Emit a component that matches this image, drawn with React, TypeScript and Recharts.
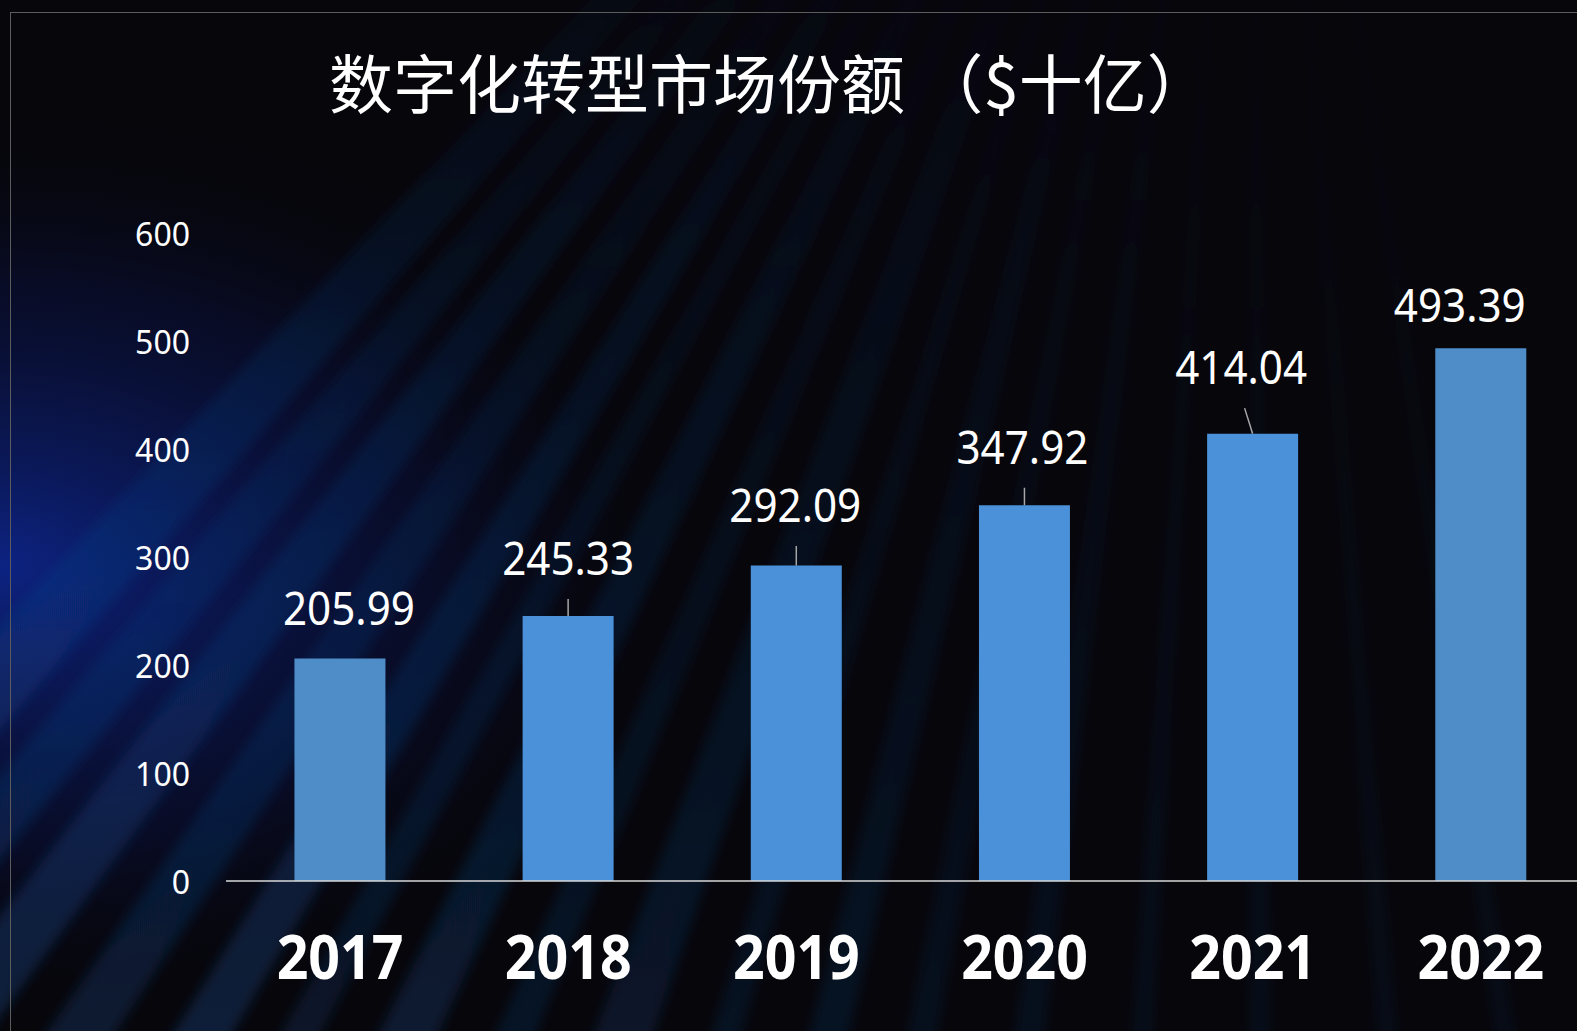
import React from 'react';
import { BarChart, Bar, XAxis, YAxis, LabelList, Cell } from 'recharts';

const years = ['2017', '2018', '2019', '2020', '2021', '2022'];
const marketShare = [205.99, 245.33, 292.09, 347.92, 414.04, 493.39];
const yTicks = [0, 100, 200, 300, 400, 500, 600];
const titleText = '数字化转型市场份额 （$十亿）';

const barColors = ['#4E8DC8', '#4A91D9', '#4A91D9', '#4A91D9', '#4A91D9', '#4E8DC8'];
// label placement style (offsets relative to bar top / centre)
const labelStyle = [
  { dx: 9, lift: 33.5, leader: false, lx0: 0, lx1: 0 },
  { dx: 0, lift: 41, leader: true, lx0: 0, lx1: 0 },
  { dx: -1, lift: 43.6, leader: true, lx0: 0, lx1: 0 },
  { dx: -2, lift: 41.5, leader: true, lx0: 0, lx1: 0 },
  { dx: -11.5, lift: 49.7, leader: true, lx0: -8, lx1: 0 },
  { dx: -21, lift: 26.5, leader: false, lx0: 0, lx1: 0 },
];

const data = years.map((y, i) => ({ year: y, value: marketShare[i] }));

const W = 1577;
const H = 1031;
const CHART_W = 1620;
const PLOT_LEFT = 226;
const PLOT_RIGHT = 1595;

const rays = [
  { x0: -420, x1: -300, op: 0.35 }, { x0: -250, x1: -170, op: 0.28 }, { x0: -120, x1: -40, op: 0.32 },
  { x0: 20, x1: 90, op: 0.25 }, { x0: 150, x1: 210, op: 0.3 }, { x0: 260, x1: 300, op: 0.2 },
  { x0: 360, x1: 420, op: 0.25 }, { x0: 480, x1: 520, op: 0.18 }, { x0: 580, x1: 640, op: 0.2 },
  { x0: 700, x1: 730, op: 0.15 }, { x0: 800, x1: 840, op: 0.16 }, { x0: 900, x1: 930, op: 0.12 },
  { x0: 1010, x1: 1040, op: 0.12 }, { x0: 1130, x1: 1150, op: 0.1 }, { x0: 1250, x1: 1270, op: 0.1 },
  { x0: 1380, x1: 1400, op: 0.08 }, { x0: 1500, x1: 1520, op: 0.08 },
];

const Background = () => {
  const fx = 1250;
  const fy = -700;
  return (
    <svg width={W} height={H} style={{ position: 'absolute', left: 0, top: 0 }}>
      <defs>
        <radialGradient id="leftGlow" cx="0" cy="0.55" r="0.45">
          <stop offset="0%" stopColor="#0e2aa0" stopOpacity="0.8" />
          <stop offset="60%" stopColor="#0a1550" stopOpacity="0.4" />
          <stop offset="100%" stopColor="#05060c" stopOpacity="0" />
        </radialGradient>
        <linearGradient id="rayFade" x1="0" y1="1" x2="0" y2="0">
          <stop offset="0%" stopColor="#1a5aa8" stopOpacity="1" />
          <stop offset="45%" stopColor="#123d80" stopOpacity="0.55" />
          <stop offset="75%" stopColor="#0a1a40" stopOpacity="0" />
          <stop offset="100%" stopColor="#0a1a40" stopOpacity="0" />
        </linearGradient>
        <filter id="blur6"><feGaussianBlur stdDeviation="6" /></filter>
      </defs>
      <rect x={0} y={0} width={W} height={H} fill="#07060b" />
      <rect x={0} y={0} width={W} height={H} fill="url(#leftGlow)" />
      <g filter="url(#blur6)">
        {rays.map((r, i) => (
          <polygon
            key={i}
            points={`${fx},${fy} ${fx + 6},${fy} ${r.x1},${H + 40} ${r.x0},${H + 40}`}
            fill="url(#rayFade)"
            opacity={r.op}
          />
        ))}
      </g>
      <rect x={10.5} y={12.5} width={W} height={H} fill="none" stroke="#5c5c5c" strokeWidth={1} />
    </svg>
  );
};

const YTick = (props: any) => {
  const { x, y, payload } = props;
  return (
    <text x={x} y={y} textAnchor="end" dominantBaseline="central" fill="#ffffff"
      fontFamily="'Noto Sans', sans-serif" fontSize={32}>
      {payload.value}
    </text>
  );
};

const XTick = (props: any) => {
  const { x, y, payload } = props;
  const fs = 61;
  return (
    <text x={x} y={y} textAnchor="middle" dominantBaseline="central" fill="#ffffff"
      fontFamily="'Noto Sans', sans-serif" fontWeight={700} fontSize={fs}
      textLength={fs * 0.52 * String(payload.value).length} lengthAdjust="spacingAndGlyphs">
      {payload.value}
    </text>
  );
};

const ValueLabel = (props: any) => {
  const { x, y, width, value, index } = props;
  const st = labelStyle[index] || labelStyle[0];
  const cx = x + width / 2;
  const s = Number(value).toFixed(2);
  const fs = 45.8;
  const digits = s.replace(/[^0-9]/g, '').length;
  const dots = s.length - digits;
  const baseY = y - st.lift;
  return (
    <g>
      {st.leader && (
        <line x1={cx + st.lx0} y1={baseY + 24} x2={cx + st.lx1} y2={y} stroke="#a6a6a6" strokeWidth={1.5} />
      )}
      <text x={cx + st.dx} y={baseY} textAnchor="middle" fill="#ffffff"
        fontFamily="'Noto Sans', sans-serif" fontSize={fs}
        textLength={fs * (0.53 * digits + 0.23 * dots)} lengthAdjust="spacingAndGlyphs">
        {s}
      </text>
    </g>
  );
};

export default function App() {
  return (
    <div style={{ position: 'absolute', left: 0, top: 0, width: W, height: H, overflow: 'hidden', background: '#07060b' }}>
      <Background />
      <div style={{ position: 'absolute', left: 0, top: 0 }}>
        <BarChart
          width={CHART_W}
          height={H}
          data={data}
          margin={{ top: 233, right: CHART_W - PLOT_RIGHT, left: 0, bottom: 0 }}
          barCategoryGap="30%"
        >
          <XAxis
            dataKey="year"
            height={150}
            tickSize={0}
            tickMargin={74}
            tick={<XTick />}
            axisLine={{ stroke: '#d9d9d9', strokeWidth: 1.5 }}
            tickLine={false}
            interval={0}
          />
          <YAxis
            width={PLOT_LEFT}
            domain={[0, 600]}
            ticks={yTicks}
            tickSize={0}
            tickMargin={36}
            tick={<YTick />}
            axisLine={false}
            tickLine={false}
          />
          <Bar dataKey="value" isAnimationActive={false}>
            {data.map((d, i) => (
              <Cell key={d.year} fill={barColors[i]} />
            ))}
            <LabelList dataKey="value" content={<ValueLabel />} />
          </Bar>
        </BarChart>
      </div>
      <svg width={W} height={H} style={{ position: 'absolute', left: 0, top: 0, pointerEvents: 'none' }}>
        <text x={329} y={80} dominantBaseline="central" fill="#ffffff"
          fontFamily="'Noto Sans CJK SC', sans-serif" fontSize={64}>
          {titleText}
        </text>
      </svg>
    </div>
  );
}
